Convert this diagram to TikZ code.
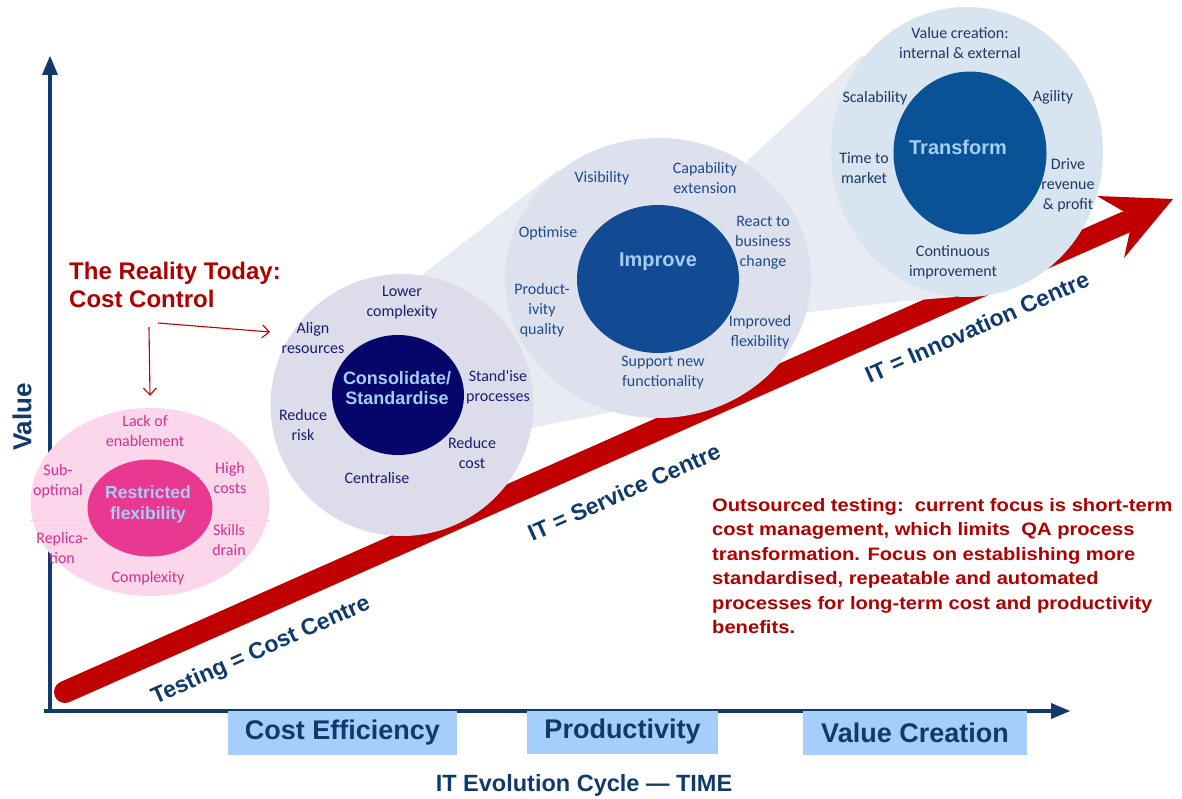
\documentclass[tikz,border=0pt]{standalone}
\usepackage{fontspec}
\setmainfont{Liberation Sans}
\newfontfamily\carlito{Carlito}
\newfontfamily\notefont[FakeStretch=1.12]{Liberation Sans}
\usetikzlibrary{positioning,shapes,arrows,arrows.meta}

\definecolor{axisblue}{RGB}{16,58,108}
\definecolor{boxblue}{RGB}{166,206,250}
\definecolor{arrowred}{RGB}{192,0,0}
\definecolor{textred}{RGB}{176,0,0}
\definecolor{pinkout}{RGB}{252,214,234}
\definecolor{pinkin}{RGB}{232,56,143}
\definecolor{pinktext}{RGB}{214,48,140}
\definecolor{consout}{RGB}{220,220,234}
\definecolor{consin}{RGB}{6,6,106}
\definecolor{constext}{RGB}{28,28,110}
\definecolor{impout}{RGB}{221,225,237}
\definecolor{impin}{RGB}{18,74,148}
\definecolor{imptext}{RGB}{30,75,140}
\definecolor{trout}{RGB}{216,228,240}
\definecolor{trin}{RGB}{10,82,150}
\definecolor{trtext}{RGB}{28,58,98}
\definecolor{conegray}{RGB}{232,235,242}
\definecolor{hubtext}{RGB}{164,206,250}

\begin{document}
\begin{tikzpicture}[x=1pt,y=-1pt,
  outer/.style={ellipse,inner sep=0pt},
  hub/.style={ellipse,inner sep=0pt},
  hubtxt/.style={align=center,inner sep=0pt,text=hubtext,font=\bfseries\fontsize{18}{20}\selectfont},
  lbl/.style={align=center,inner sep=0pt,font=\carlito\fontsize{16}{20}\selectfont},
  phase/.style={fill=boxblue,text=axisblue,inner sep=0pt,font=\bfseries\fontsize{27}{29}\selectfont},
  centre/.style={text=axisblue,rotate=24,inner sep=0pt,font=\bfseries\fontsize{23}{26}\selectfont},
  cone/.style={fill=conegray},
  axis/.style={draw=axisblue,line width=3.5pt,-triangle 45},
  pointer/.style={draw=arrowred,line width=1.1pt,-{Straight Barb[length=7pt,width=13pt]}}]
  \useasboundingbox (0,0) rectangle (1182,798);

  % axes
  \coordinate (origin) at (50,711);
  \coordinate (ytop) at (50,56);
  \coordinate (xend) at (1070,711);
  \draw[axis] (origin) -- (ytop);
  \draw[axis] (44,711) -- (xend);
  \node[rotate=90,text=axisblue,font=\bfseries\fontsize{26}{28}\selectfont] (value) at (22,417) {Value};

  % phases along time
  \node[phase,minimum width=229pt,minimum height=44pt] (costeff) at (342.5,733) {Cost Efficiency};
  \node[phase,minimum width=191pt,minimum height=43pt] (prod) at (622.5,732) {Productivity};
  \node[phase,minimum width=224pt,minimum height=44pt] (valcre) at (915,733) {Value Creation};
  \node[text=axisblue,font=\bfseries\fontsize{23.5}{25}\selectfont] (time) at (584,785) {IT Evolution Cycle --- TIME};

  % big red arrow
  \coordinate (tail) at (65,692);
  \coordinate (neck) at (1126,222);
  \coordinate (tip) at (1173,199);
  \coordinate (barbup) at (1097,196);
  \coordinate (notch) at (1133,217);
  \coordinate (barbdn) at (1124,258);
  \draw[arrowred,line width=22pt,line cap=round] (tail) -- (neck);
  \fill[arrowred] (tip) -- (barbup) -- (notch) -- (barbdn) -- cycle;

  \node[centre] (costc) at (261,651) {Testing = Cost Centre};
  \node[centre] (servc) at (624,492) {IT = Service Centre};
  \node[centre] (innoc) at (977,327) {IT = Innovation Centre};

  % zoom cones
  \fill[cone] (423,274) -- (558,170) -- (658,278) -- (612,412) -- (531,428) -- (402,405) -- cycle;
  \fill[cone] (748,160) -- (862,55) -- (967,152) -- (955,297) -- (905,301) -- (810,312) -- (700,290) -- cycle;

  % restricted flexibility
  \node[outer,fill=pinkout,minimum width=239pt,minimum height=188pt] (restr) at (150,502) {};
  \draw[pinkin!25] ([yshift=-18pt]restr.west) -- ([yshift=-18pt]restr.east);
  \node[hub,fill=pinkin,minimum width=125pt,minimum height=97pt] (restrhub) at (150,508) {};
  \node[hubtxt,font=\bfseries\fontsize{17.5}{21}\selectfont] at (148,504) {Restricted\\flexibility};
  \node[lbl,text=pinktext] (lack) at (145,431) {Lack of\\enablement};
  \node[lbl,text=pinktext] (subopt) at (58,481) {Sub-\\optimal};
  \node[lbl,text=pinktext] (high) at (230,478) {High\\costs};
  \node[lbl,text=pinktext] (skills) at (229,540) {Skills\\drain};
  \node[lbl,text=pinktext] (repl) at (62,548) {Replica-\\tion};
  \node[lbl,text=pinktext] (cplx) at (148,578) {Complexity};

  % improve
  \node[outer,fill=impout,minimum width=306pt,minimum height=280pt] (imp) at (658,278) {};
  \node[hub,fill=impin,minimum width=162pt,minimum height=148pt] (imphub) at (658,279) {};
  \node[hubtxt,font=\bfseries\fontsize{20}{22}\selectfont] at (658,262) {Improve};
  \node[lbl,text=imptext] (visib) at (602,178) {Visibility};
  \node[lbl,text=imptext] (capab) at (705,178) {Capability\\extension};
  \node[lbl,text=imptext] (optim) at (548,233) {Optimise};
  \node[lbl,text=imptext] (react) at (763,243) {React to\\business\\change};
  \node[lbl,text=imptext] (prodq) at (542,310) {Product-\\ivity\\quality};
  \node[lbl,text=imptext] (impfl) at (760,332) {Improved\\flexibility};
  \node[lbl,text=imptext] (supp) at (663,373) {Support new\\functionality};

  % consolidate
  \node[outer,fill=consout,minimum width=263pt,minimum height=262pt] (cons) at (402,405) {};
  \draw[consin!12] ([yshift=-4pt]cons.west) -- ([yshift=-4pt]cons.east);
  \node[hub,fill=consin,minimum width=132pt,minimum height=120pt] (conshub) at (398,395) {};
  \node[hubtxt] at (397,388) {Consolidate/\\Standardise};
  \node[lbl,text=constext] (lower) at (402,303) {Lower\\complexity};
  \node[lbl,text=constext] (alignr) at (313,338) {Align\\resources};
  \node[lbl,text=constext] (standp) at (498,387) {Stand\textquotesingle ise\\processes};
  \node[lbl,text=constext] (rrisk) at (303,425) {Reduce\\risk};
  \node[lbl,text=constext] (rcost) at (472,453) {Reduce\\cost};
  \node[lbl,text=constext] (central) at (377,478) {Centralise};

  % transform
  \node[outer,fill=trout,minimum width=272pt,minimum height=290pt] (trans) at (967,152) {};
  \node[hub,fill=trin,minimum width=153pt,minimum height=163pt] (transhub) at (970,153) {};
  \node[hubtxt,font=\bfseries\fontsize{20}{22}\selectfont] at (958,147) {Transform};
  \node[lbl,text=trtext] (valcr) at (960,43) {Value creation:\\internal \& external};
  \node[lbl,text=trtext] (scal) at (875,98) {Scalability};
  \node[lbl,text=trtext] (agil) at (1053,97) {Agility};
  \node[lbl,text=trtext] (ttm) at (864,168) {Time to\\market};
  \node[lbl,text=trtext] (drive) at (1068,185) {Drive\\revenue\\\& profit};
  \node[lbl,text=trtext] (contin) at (953,262) {Continuous\\improvement};

  % today's reality
  \node[anchor=north west,align=left,inner sep=0pt,text=textred,
        font=\bfseries\fontsize{24}{28}\selectfont] (reality) at (69,262) {The Reality Today:\\Cost Control};
  \coordinate (down) at (149,327);
  \coordinate (across) at (158,323);
  \coordinate (consleft) at (270,332);
  \draw[pointer] (down) -- ([yshift=12pt]restr.north);
  \draw[pointer] (across) -- (consleft);

  \node[anchor=north west,align=left,inner sep=0pt,text=textred,
        font=\notefont\bfseries\fontsize{18}{24.5}\selectfont] (note) at (712,498)
    {Outsourced testing:\ \ current focus is short-term\\
     cost management, which limits\ \ QA process\\
     transformation. Focus on establishing more\\
     standardised, repeatable and automated\\
     processes for long-term cost and productivity\\
     benefits.};
\end{tikzpicture}
\end{document}
